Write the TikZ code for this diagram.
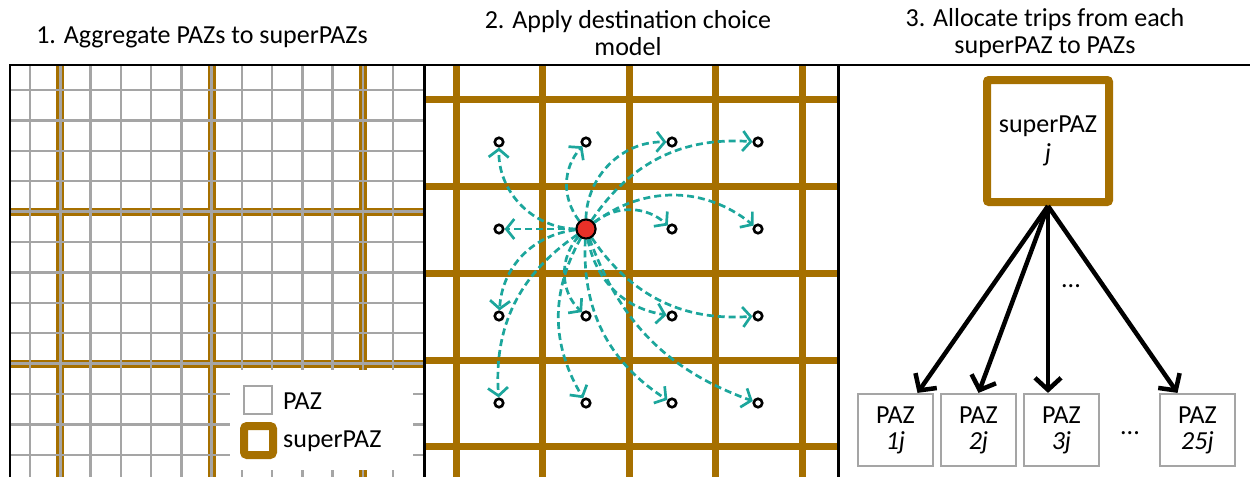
\documentclass[tikz,border=0pt]{standalone}
\usepackage{fontspec}
\setmainfont{Carlito}
\usetikzlibrary{arrows.meta}
\definecolor{gold}{RGB}{166,112,0}
\definecolor{gridgray}{RGB}{165,165,165}
\definecolor{tealarr}{RGB}{28,166,156}
\definecolor{reddot}{RGB}{232,48,40}
\begin{document}
\begin{tikzpicture}[x=1pt,y=-1pt,
  txt/.style={font=\fontsize{26}{27}\selectfont, align=center, inner sep=0pt},
  dot/.style={circle, draw=black, line width=2.6, fill=white, inner sep=0pt, minimum size=8.5},
  origin/.style={circle, draw=black, line width=2, fill=reddot, inner sep=0pt, minimum size=19},
  trip/.style={tealarr, line width=2.7, dash pattern=on 7pt off 4pt, -{Straight Barb[length=8pt,width=20pt]}},
  alloc/.style={black, line width=4.5, -{Straight Barb[length=12pt,width=26pt]}},
  pazbox/.style={draw=gridgray, line width=2.2, minimum width=75, minimum height=72, inner sep=0pt, align=center, font=\fontsize{26}{26}\selectfont},
  supbox/.style={draw=gold, line width=8, rounded corners=2, minimum size=122, inner sep=0pt, align=center, font=\fontsize{26}{29}\selectfont}]
\useasboundingbox (0,0) rectangle (1250,477);

% ---------- panel 1 ----------
\begin{scope}
\clip (10,65) rectangle (424,477);
\foreach \i in {1,6,11} \draw[gold, line width=8] ({30+30.25*\i},65) -- ({30+30.25*\i},477);
\foreach \i in {4,9} \draw[gold, line width=8] (10,{90+30.4*\i}) -- (424,{90+30.4*\i});
\foreach \i in {0,...,12} \draw[gridgray, line width=2.5] ({30+30.25*\i},65) -- ({30+30.25*\i},477);
\foreach \i in {0,...,12} \draw[gridgray, line width=2.5] (10,{90+30.4*\i}) -- (424,{90+30.4*\i});
\end{scope}
\fill[white] (230,370) rectangle (413,470);
\node[draw=gridgray, line width=2.5, minimum size=28, inner sep=0pt] (lpaz) at (258,400) {};
\node[txt, anchor=west] (lpazt) at (283,401) {PAZ};
\node[draw=gold, line width=8, rounded corners=3, minimum size=29, inner sep=0pt] (lsup) at (258.5,440.5) {};
\node[txt, anchor=west] (lsupt) at (283,441) {superPAZ};

% ---------- panel 2 ----------
\begin{scope}
\clip (424,65) rectangle (838,477);
\foreach \x in {456,542.5,629,715.5,802} \draw[gold, line width=7] (\x,65) -- (\x,477);
\foreach \y in {99,186,273,360,446} \draw[gold, line width=7] (424,\y) -- (838,\y);
\end{scope}
\foreach \r/\y in {1/142,2/229,3/316,4/403}
  \foreach \c/\x in {1/499,2/586,3/672,4/758}
    \node[dot] (d\r\c) at (\x,\y) {};
\node[origin] (o) at (586,229) {};
\draw[trip] (o) to[bend left=45] (d11);
\draw[trip] (o) to[bend left=40] (d12);
\draw[trip] (o) to[bend left=45] (d13);
\draw[trip] (o) to[bend left=30] (d14);
\draw[trip] (o) -- (d21);
\draw[trip] (o) to[bend left=40] (d23);
\draw[trip] (o) to[bend left=38] (d24);
\draw[trip] (o) to[bend right=40] (d31);
\draw[trip] (o) to[bend right=45] (d32);
\draw[trip] (o) to[bend right=35] (d33);
\draw[trip] (o) to[bend right=30] (d34);
\draw[trip] (o) to[bend right=30] (d41);
\draw[trip] (o) to[bend right=30] (d42);
\draw[trip] (o) to[bend right=30] (d43);
\draw[trip] (o) to[bend right=25] (d44);
\node[origin] (o2) at (586,229) {};

% ---------- panel 3 ----------
\node[supbox] (sp) at (1048,141) {superPAZ\\\textit{j}};
\node[pazbox] (p1) at (895.5,430) {PAZ\\\textit{1j}};
\node[pazbox] (p2) at (978.5,430) {PAZ\\\textit{2j}};
\node[pazbox] (p3) at (1061.5,430) {PAZ\\\textit{3j}};
\node[pazbox] (p4) at (1197.5,430) {PAZ\\\textit{25j}};
\draw[alloc] (sp.south) -- ([xshift=22]p1.north);
\draw[alloc] (sp.south) -- (p2.north);
\draw[alloc] (sp.south) -- (p3.north -| sp.south);
\draw[alloc] (sp.south) -- ([xshift=-20]p4.north);
\node[txt] (e1) at (1071,286) {...};
\node[txt] (e2) at (1130,433) {...};

% ---------- frame ----------
\draw[black, line width=2.5] (10,477) -- (10,65) -- (1250,65);
\draw[black, line width=3] (424,65) -- (424,477);
\draw[black, line width=3] (838,65) -- (838,477);

% ---------- titles ----------
\node[txt, anchor=base] (t1) at (202,43) {1. Aggregate PAZs to superPAZs};
\node[txt] (t2) at (628,33) {2. Apply destination choice\\model};
\node[txt] (t3) at (1045,33) {3. Allocate trips from each\\superPAZ to PAZs};
\end{tikzpicture}
\end{document}
